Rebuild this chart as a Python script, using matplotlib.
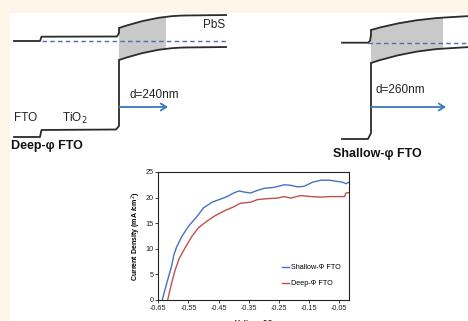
import numpy as np
import matplotlib
matplotlib.use("Agg")
import matplotlib.pyplot as plt
from matplotlib.path import Path
from matplotlib.patches import PathPatch, Rectangle, FancyArrowPatch

plt.rcParams['font.family'] = ['Liberation Sans', 'DejaVu Sans']

# ---------------- J-V data ----------------
shallow_v = [-0.637, -0.622, -0.606, -0.598, -0.589, -0.572, -0.550, -0.522, -0.500, -0.472,
             -0.444, -0.422, -0.400, -0.383, -0.367, -0.344, -0.322, -0.300, -0.267, -0.233,
             -0.211, -0.189, -0.167, -0.139, -0.111, -0.083, -0.061, -0.039, -0.028, -0.020, -0.017]
shallow_j = [0.0, 3.3, 6.6, 8.9, 10.4, 12.4, 14.4, 16.3, 18.0, 19.1,
             19.7, 20.2, 20.9, 21.3, 21.1, 20.9, 21.4, 21.8, 22.0, 22.5,
             22.4, 22.1, 22.2, 23.0, 23.4, 23.4, 23.2, 23.0, 22.7, 23.0, 22.9]
deep_v = [-0.619, -0.606, -0.594, -0.580, -0.561, -0.539, -0.517, -0.489, -0.461, -0.428,
          -0.400, -0.378, -0.344, -0.322, -0.289, -0.256, -0.233, -0.211, -0.178, -0.144,
          -0.111, -0.078, -0.033, -0.028, -0.017]
deep_j = [0.0, 3.3, 5.9, 8.2, 10.2, 12.4, 14.1, 15.4, 16.5, 17.5,
          18.2, 18.9, 19.1, 19.6, 19.8, 19.9, 20.2, 19.9, 20.4, 20.2,
          20.1, 20.2, 20.2, 20.9, 21.0]
series_labels = ["Shallow-Φ FTO", "Deep-Φ FTO"]
x_ticks = [-0.65, -0.55, -0.45, -0.35, -0.25, -0.15, -0.05]
x_tick_labels = ["-0.65", "-0.55", "-0.45", "-0.35", "-0.25", "-0.15", "-0.05"]
y_ticks = [0, 5, 10, 15, 20, 25]

# ---------------- schematic band diagram geometry (pixel units) ----------------
# left: Deep-phi FTO
L_fermi_solid = ([14, 40, 41.5, 117, 119, 119], [41, 41, 36.7, 36.5, 33, 28])
L_bottom = ([14, 40, 41.5, 116, 119, 119], [137, 137, 130, 129.5, 126, 60])
L_upper = [(119, 28), (140, 21), (160, 16), (185, 15.5), (227, 15)]
L_lower = [(119, 60), (140, 53), (160, 48), (185, 47.5), (227, 47)]
L_fill_x = (119, 166)
L_dash = ([42, 227], [41, 41])
L_arrow = ((119, 107), (168, 107))

# right: Shallow-phi FTO
R_fermi_solid = ([342, 368, 370, 371, 371], [42.7, 42.7, 41, 35, 30])
R_bottom = ([342, 368, 370, 371, 371], [139, 139, 135, 133, 63])
R_upper = [(371, 30), (395, 23), (420, 19), (445, 17.5), (470, 16)]
R_lower = [(371, 63), (395, 55), (420, 50), (445, 48.5), (470, 47)]
R_fill_x = (371, 443)
R_dash = ([368, 470], [42.7, 42.7])
R_arrow = ((371, 107), (446, 107))

W, H = 468, 321
fig = plt.figure(figsize=(W / 100, H / 100), dpi=100)
fig.patch.set_facecolor('#FFF6EA')

ax0 = fig.add_axes([0, 0, 1, 1])
ax0.set_xlim(0, W)
ax0.set_ylim(H, 0)
ax0.axis('off')
ax0.add_patch(Rectangle((10, 13), W, H, facecolor='white', edgecolor='none', zorder=0))

line_col = '#2b2b2b'
dash_col = '#4a6ea8'
arrow_col = '#3a78c2'
fill_col = '#c9c9c9'


def band(upper, lower, fill_x):
    up = Path([upper[0], upper[1], upper[2], upper[3], upper[4]],
              [Path.MOVETO, Path.CURVE4, Path.CURVE4, Path.CURVE4, Path.LINETO])
    lo = Path([lower[0], lower[1], lower[2], lower[3], lower[4]],
              [Path.MOVETO, Path.CURVE4, Path.CURVE4, Path.CURVE4, Path.LINETO])
    closed = Path([upper[0], upper[1], upper[2], upper[3], upper[4],
                   lower[4], lower[3], lower[2], lower[1], lower[0], upper[0]],
                  [Path.MOVETO, Path.CURVE4, Path.CURVE4, Path.CURVE4, Path.LINETO,
                   Path.LINETO, Path.LINETO, Path.CURVE4, Path.CURVE4, Path.CURVE4, Path.CLOSEPOLY])
    clip = Rectangle((fill_x[0], 0), fill_x[1] - fill_x[0], H, transform=ax0.transData,
                     facecolor='none', edgecolor='none')
    ax0.add_patch(clip)
    fp = PathPatch(closed, facecolor=fill_col, edgecolor='none', zorder=1)
    ax0.add_patch(fp)
    fp.set_clip_path(clip)
    for p in (up, lo):
        ax0.add_patch(PathPatch(p, facecolor='none', edgecolor=line_col, lw=1.3, zorder=3))


band(L_upper, L_lower, L_fill_x)
band(R_upper, R_lower, R_fill_x)

for xs, ys in (L_fermi_solid, L_bottom, R_fermi_solid, R_bottom):
    ax0.plot(xs, ys, color=line_col, lw=1.3, solid_joinstyle='round', zorder=3)
for xs, ys in (L_dash, R_dash):
    ax0.plot(xs, ys, color=dash_col, lw=1.0, dashes=(3.2, 2.4), zorder=2)
for a, b in (L_arrow, R_arrow):
    ax0.add_patch(FancyArrowPatch(a, b, arrowstyle='->,head_length=4,head_width=2.5',
                                  color=arrow_col, lw=1.3, zorder=4, shrinkA=0, shrinkB=0))

txt_kw = dict(fontsize=8.5, color='#222222', va='center', zorder=5)
ax0.text(203, 25, 'PbS', ha='left', **txt_kw)
ax0.text(14, 118, 'FTO', ha='left', **txt_kw)
ax0.text(62, 118, 'TiO$_2$', ha='left', **txt_kw)
ax0.text(129, 95, 'd=240nm', ha='left', **txt_kw)
ax0.text(375, 90, 'd=260nm', ha='left', **txt_kw)
ax0.text(11, 146, 'Deep-φ FTO', ha='left', fontsize=9, fontweight='bold', va='center', color='#111111')
ax0.text(333, 154, 'Shallow-φ FTO', ha='left', fontsize=9, fontweight='bold', va='center', color='#111111')

# ---------------- J-V chart ----------------
l, r, t, b = 158.3, 349.3, 172, 300
ax = fig.add_axes([l / W, (H - b) / H, (r - l) / W, (b - t) / H])
ax.plot(shallow_v, shallow_j, color='#4472C4', lw=1.0, label=series_labels[0])
ax.plot(deep_v, deep_j, color='#C0504D', lw=1.0, label=series_labels[1])
ax.set_xlim(-0.65, -0.017)
ax.set_ylim(0, 25)
ax.set_xticks(x_ticks)
ax.set_xticklabels(x_tick_labels)
ax.set_yticks(y_ticks)
ax.tick_params(labelsize=5.2, length=2, width=0.6, pad=1.5, colors='#222222')
for s in ax.spines.values():
    s.set_linewidth(0.8)
    s.set_color('#222222')
ax.set_ylabel('Current Density (mA /cm$^2$)', fontsize=5.0, fontweight='bold', labelpad=2)
ax.set_xlabel('Voltage (V)', fontsize=5.2, fontweight='bold', labelpad=6)
leg = ax.legend(loc='lower right', bbox_to_anchor=(0.99, 0.05), fontsize=5.2, frameon=False,
                handlelength=1.0, handletextpad=0.3, labelspacing=1.2)

fig.savefig('out.png', dpi=100, facecolor=fig.get_facecolor())
